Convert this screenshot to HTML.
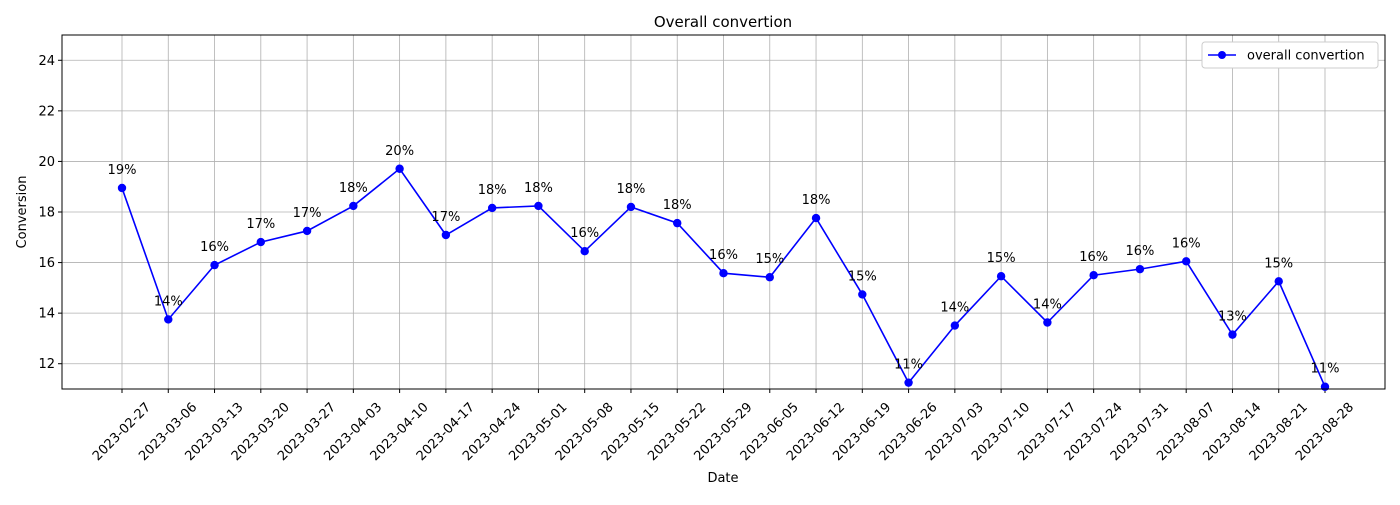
<!DOCTYPE html>
<html><head><meta charset="utf-8"><style>
body{margin:0;background:#fff;font-family:"Liberation Sans","DejaVu Sans",sans-serif}
svg text{font-family:"DejaVu Sans","Liberation Sans",sans-serif}
</style></head><body>
<svg id="chart" width="1400" height="500" xmlns="http://www.w3.org/2000/svg">
<rect width="1400" height="500" fill="#fff"/>
<text x="723" y="27" font-size="15" text-anchor="middle">Overall convertion</text>
<g id="grid"></g>
<g id="xticks"></g>
<g id="yticks"></g>
<g id="series"></g>
<rect x="62" y="35" width="1323" height="354" fill="none" stroke="#000" stroke-width="1"/>
<text x="723" y="482" font-size="13" text-anchor="middle">Date</text>
<text transform="translate(26,212) rotate(-90)" font-size="13" text-anchor="middle">Conversion</text>
<g>
<rect x="1202" y="42" width="176" height="26" fill="#fff" stroke="#ccc" rx="3"/>
<line x1="1208" y1="55" x2="1236" y2="55" stroke="#00f" stroke-width="1.5"/>
<circle cx="1222" cy="55" r="4" fill="#00f"/>
<text x="1247" y="59.5" font-size="13">overall convertion</text>
</g>
</svg>
<script>
const dates=["2023-02-27","2023-03-06","2023-03-13","2023-03-20","2023-03-27","2023-04-03","2023-04-10","2023-04-17","2023-04-24","2023-05-01","2023-05-08","2023-05-15","2023-05-22","2023-05-29","2023-06-05","2023-06-12","2023-06-19","2023-06-26","2023-07-03","2023-07-10","2023-07-17","2023-07-24","2023-07-31","2023-08-07","2023-08-14","2023-08-21","2023-08-28"];
const values=[18.95,13.75,15.9,16.81,17.25,18.24,19.71,17.09,18.16,18.24,16.45,18.2,17.56,15.58,15.42,17.76,14.74,11.25,13.51,15.46,13.63,15.5,15.74,16.05,13.15,15.26,11.09];
const yTicks=[12,14,16,18,20,22,24];
const ns="http://www.w3.org/2000/svg";
const X0=62,X1=1385,Y0=35,Y1=389,ymin=11,ymax=25;
const xs=i=>122+i*(1325-122)/(dates.length-1);
const ys=v=>Y1-(v-ymin)/(ymax-ymin)*(Y1-Y0);
function mk(tag,attrs,parent,text){const e=document.createElementNS(ns,tag);for(const k in attrs)e.setAttribute(k,attrs[k]);if(text!==undefined)e.textContent=text;parent.appendChild(e);return e;}
const grid=document.getElementById('grid'),xt=document.getElementById('xticks'),yt=document.getElementById('yticks'),ser=document.getElementById('series');
dates.forEach((d,i)=>{const x=xs(i);
 const g=mk('line',{x1:x,x2:x,y1:Y0,y2:Y1,stroke:'#b0b0b0','stroke-width':0.8},grid);
 
 
 mk('line',{x1:x,x2:x,y1:Y1,y2:Y1+4,stroke:'#000'},xt);
 const t=mk('text',{x:0,y:0,'font-size':13,'text-anchor':'middle','dominant-baseline':'central',transform:`translate(${x},432) rotate(-45)`},xt,d);
 
 
});
yTicks.forEach(v=>{const y=ys(v);
 const g=mk('line',{x1:X0,x2:X1,y1:y,y2:y,stroke:'#b0b0b0','stroke-width':0.8},grid);
 
 
 mk('line',{x1:X0-4,x2:X0,y1:y,y2:y,stroke:'#000'},yt);
 const t=mk('text',{x:X0-7,y:y+4.5,'font-size':13,'text-anchor':'end'},yt,String(v));
 
 
});
const line=mk('polyline',{points:values.map((v,i)=>xs(i)+','+ys(v)).join(' '),fill:'none',stroke:'#00f','stroke-width':1.6},ser);


values.forEach((v,i)=>{
 const c=mk('circle',{cx:xs(i),cy:ys(v),r:4.2,fill:'#00f'},ser);
 
 
 const t=mk('text',{x:xs(i),y:ys(v)-14,'font-size':13,'text-anchor':'middle'},ser,Math.round(v)+'%');
 
 
});
</script>
</body></html>
